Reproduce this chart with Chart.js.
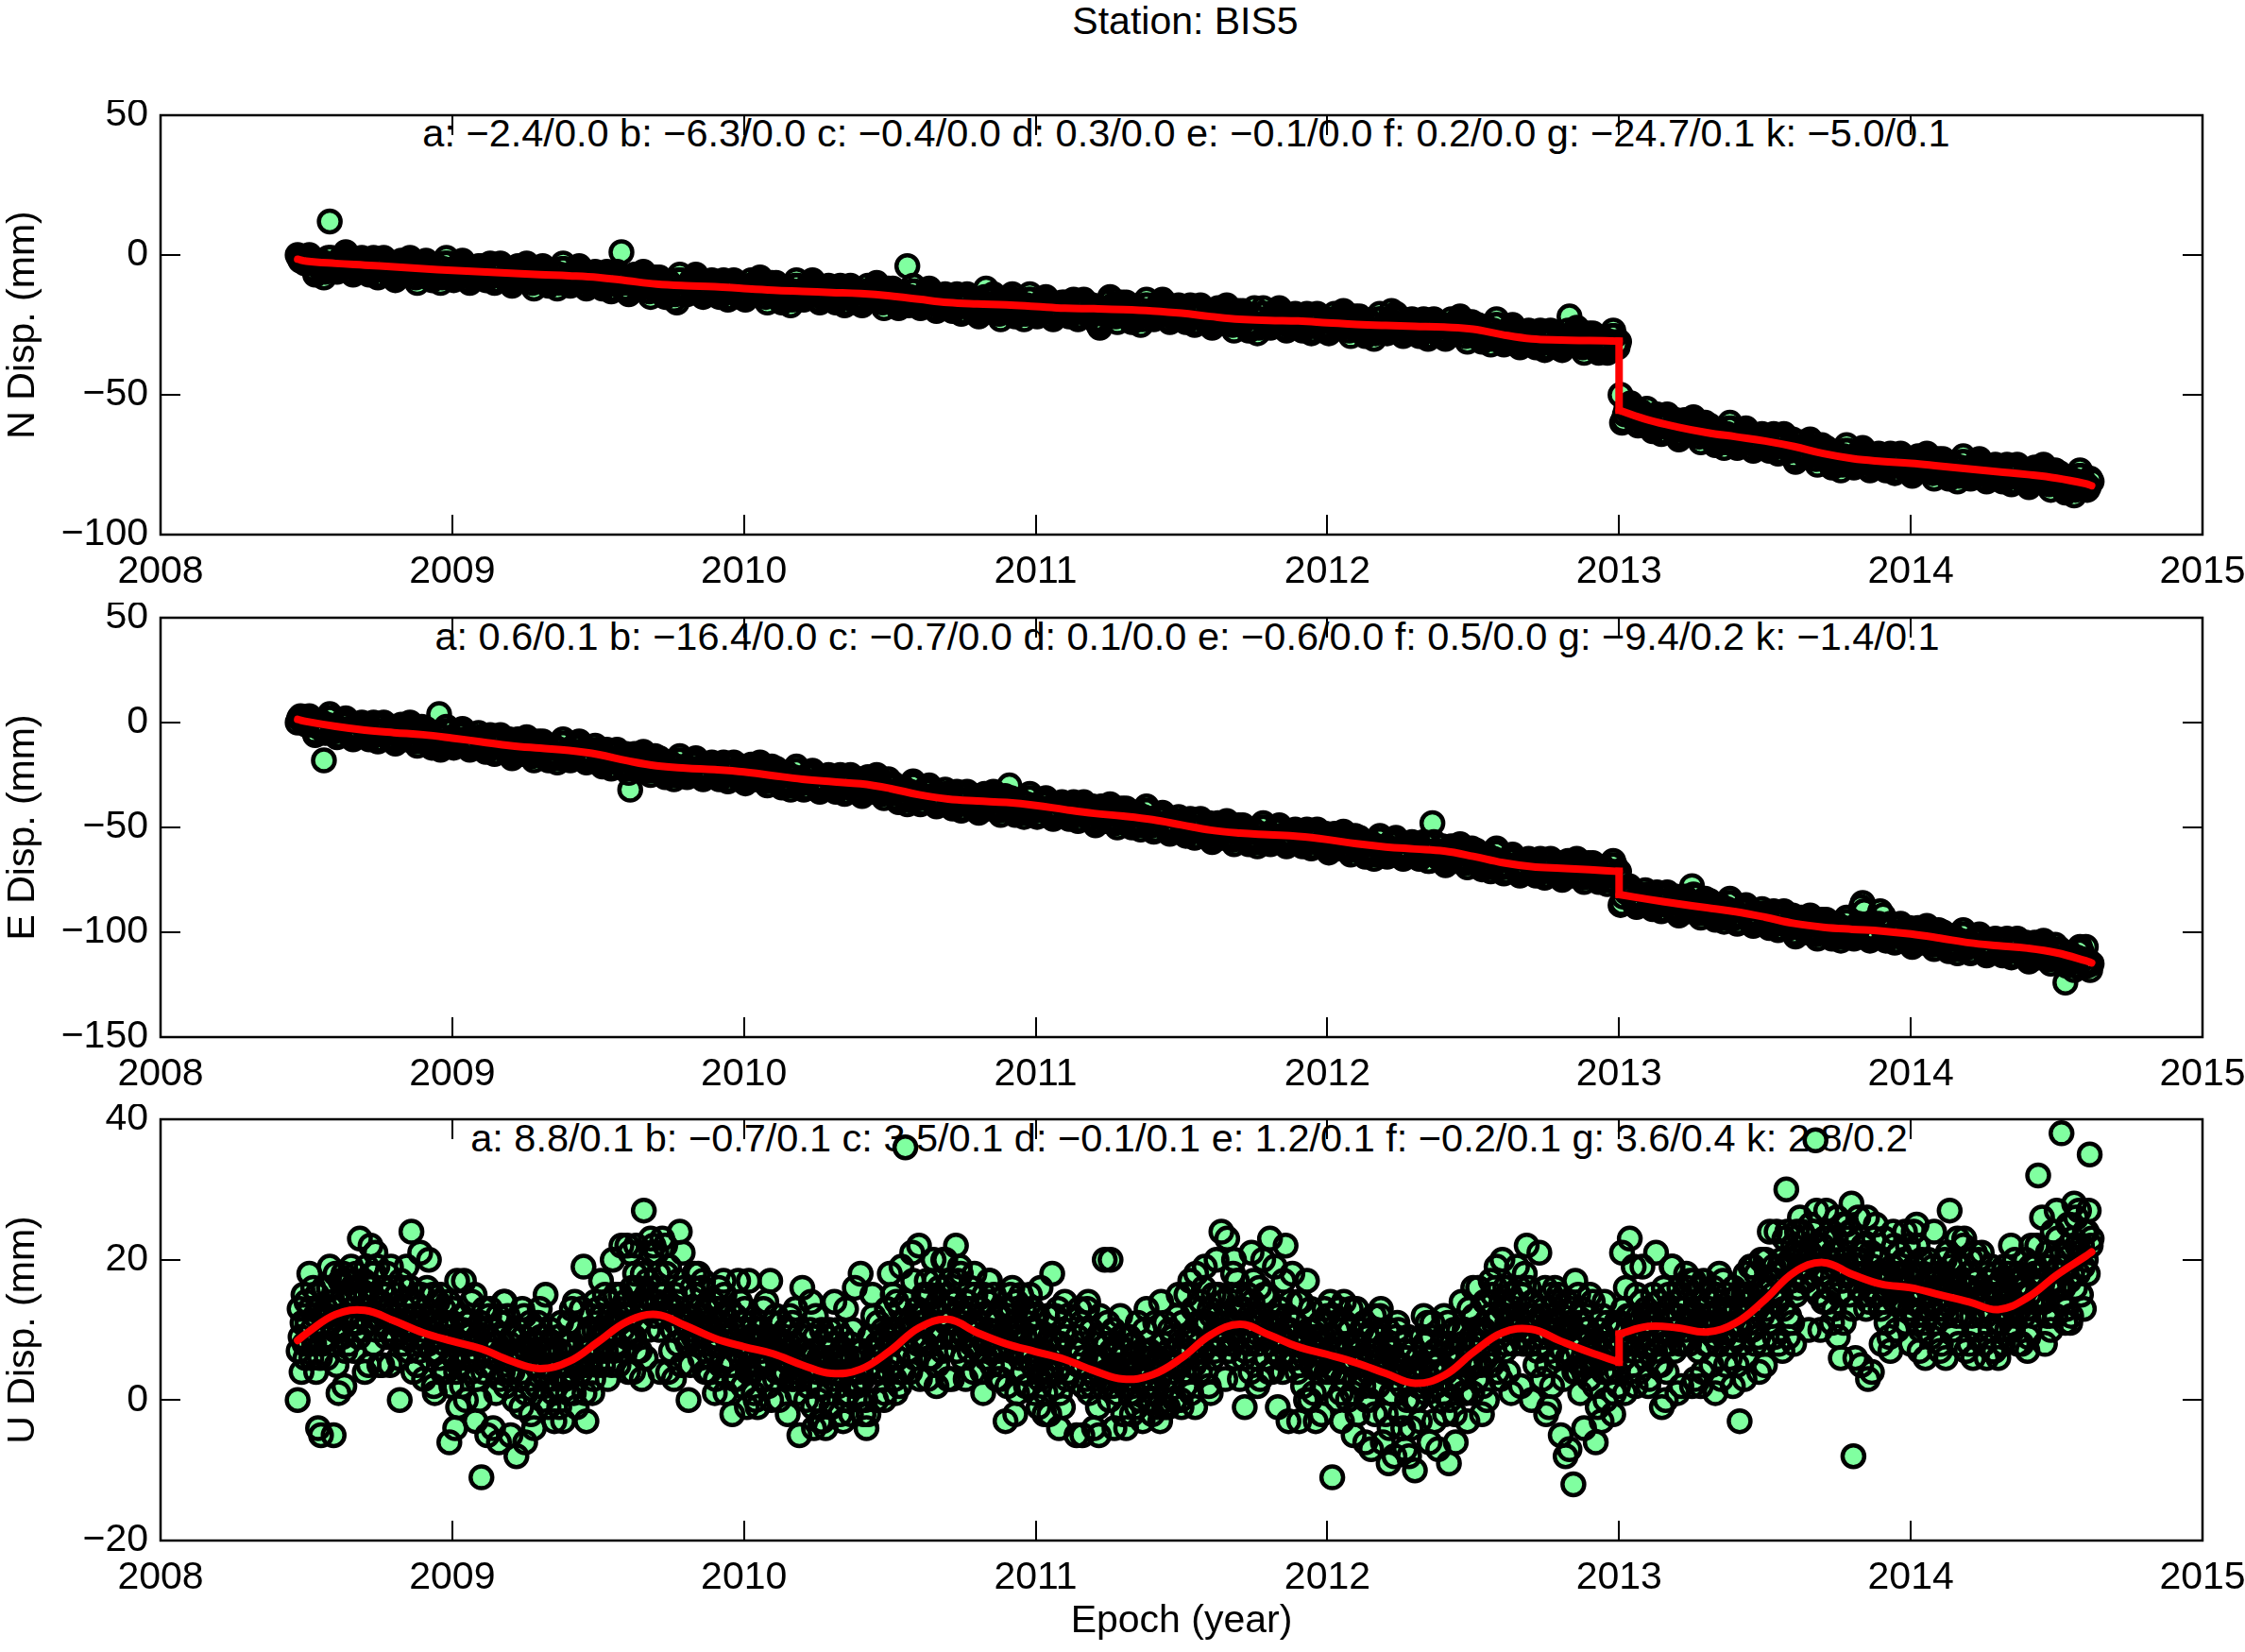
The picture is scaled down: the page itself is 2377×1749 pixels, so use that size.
<!DOCTYPE html>
<html>
<head>
<meta charset="utf-8">
<script src="https://cdn.jsdelivr.net/npm/chart.js@4.4.1/dist/chart.umd.min.js"></script>
<style>
  html, body { margin: 0; padding: 0; background: #fff; }
  body { width: 2377px; height: 1749px; position: relative; overflow: hidden;
         font-family: "Liberation Sans", Arial, Helvetica, sans-serif; }
  .txt { position: absolute; white-space: nowrap; color: #000; font-size: 41px; line-height: 41px;
         transform: translateX(-50%); z-index: 0; }
  .par { font-size: 41.5px; }
  canvas { position: absolute; left: 0; z-index: 1; }
</style>
</head>
<body>
<div id="title" class="txt" style="left:1255px; top:2px;"></div>
<div id="parN" class="txt par" style="left:1256px; top:120px;"></div>
<div id="parE" class="txt par" style="left:1257px; top:653px;"></div>
<div id="parU" class="txt par" style="left:1259px; top:1184px;"></div>
<canvas id="cN" width="2377" height="530" style="top:106px;"></canvas>
<canvas id="cE" width="2377" height="530" style="top:638px;"></canvas>
<canvas id="cU" width="2377" height="580" style="top:1169px;"></canvas>
<script>
// ---------------- texts ----------------
const stationName = 'BIS5';
const titleText = 'Station: ' + stationName;
const xAxisTitle = 'Epoch (year)';
const yTitles = ['N Disp. (mm)', 'E Disp. (mm)', 'U Disp. (mm)'];
const paramN = 'a: \u22122.4/0.0 b: \u22126.3/0.0 c: \u22120.4/0.0 d: 0.3/0.0 e: \u22120.1/0.0 f: 0.2/0.0 g: \u221224.7/0.1 k: \u22125.0/0.1';
const paramE = 'a: 0.6/0.1 b: \u221216.4/0.0 c: \u22120.7/0.0 d: 0.1/0.0 e: \u22120.6/0.0 f: 0.5/0.0 g: \u22129.4/0.2 k: \u22121.4/0.1';
const paramU = 'a: 8.8/0.1 b: \u22120.7/0.1 c: 3.5/0.1 d: \u22120.1/0.1 e: 1.2/0.1 f: \u22120.2/0.1 g: 3.6/0.4 k: 2.8/0.2';

// ---------------- tick labels ----------------
const xTickLabels = ['2008', '2009', '2010', '2011', '2012', '2013', '2014', '2015'];
const nTickLabels = ['\u2212100', '\u221250', '0', '50'];
const eTickLabels = ['\u2212150', '\u2212100', '\u221250', '0', '50'];
const uTickLabels = ['\u221220', '0', '20', '40'];

// ---------------- sampling of the observations ----------------
const sampleStart = 2008.47;   // first epoch (year)
const stepNE = 0.005;          // epoch spacing of the N and E values (20 per 0.1 yr row)
const stepU = 1 / 300;         // epoch spacing of the U values (30 per 0.1 yr row)

// ---------------- N displacement (mm) ----------------
const nDisp = [
 0, -1, -2, -1, -2, -3,
 -3, -2, 0, -1, -3, -5, -7, -6, -4, -2, -3, -5, -8, -6, -3, -1, 12, -1, -4, -5,
 -4, -6, -5, -3, -1, -2, 0, 1, -1, -3, -4, -6, -7, -5, -2, -3, -5, -4, -1, -2,
 -2, -4, -5, -7, -6, -3, -1, -2, -5, -8, -7, -4, -3, -1, -2, -4, -6, -7, -5, -3,
 -7, -9, -8, -5, -4, -2, -4, -6, -7, -5, -3, -1, -2, -4, -6, -8, -10, -7, -5, -3,
 -5, -4, -2, -3, -5, -7, -9, -8, -6, -4, -5, -7, -10, -8, -5, -3, -1, -3, -6, -7,
 -7, -9, -8, -6, -4, -5, -3, -2, -4, -6, -7, -9, -10, -8, -5, -6, -8, -7, -4, -5,
 -4, -6, -7, -9, -8, -5, -3, -4, -7, -10, -9, -6, -5, -3, -4, -6, -8, -9, -7, -5,
 -9, -11, -10, -7, -6, -4, -6, -8, -9, -7, -5, -3, -4, -6, -8, -10, -12, -9, -7, -5,
 -7, -6, -4, -5, -7, -9, -11, -10, -8, -6, -7, -9, -12, -10, -7, -5, -3, -5, -8, -9,
 -9, -11, -10, -8, -6, -7, -5, -4, -6, -8, -9, -11, -12, -10, -7, -8, -10, -9, -6, -7,
 -7, -9, -10, -12, -11, -8, -6, -7, -10, -13, -12, -9, -8, -6, -7, -9, 1, -12, -10, -8,
 -12, -14, -13, -10, -9, -7, -9, -11, -12, -10, -8, -6, -7, -9, -11, -13, -15, -12, -10, -8,
 -11, -10, -8, -9, -11, -13, -15, -14, -12, -10, -11, -13, -16, -14, -17, -9, -7, -9, -12, -13,
 -12, -14, -13, -11, -9, -10, -8, -7, -9, -11, -12, -14, -15, -13, -10, -11, -13, -12, -9, -10,
 -10, -12, -13, -15, -14, -11, -9, -10, -13, -16, -15, -12, -11, -9, -10, -12, -14, -15, -13, -11,
 -14, -16, -15, -12, -11, -9, -11, -13, -14, -12, -10, -8, -9, -11, -13, -15, -17, -14, -12, -10,
 -13, -12, -10, -11, -13, -15, -17, -16, -14, -12, -13, -15, -18, -16, -13, -11, -9, -11, -14, -15,
 -14, -16, -15, -13, -11, -12, -10, -9, -11, -13, -14, -16, -17, -15, -12, -13, -15, -14, -11, -12,
 -12, -14, -15, -17, -16, -13, -11, -12, -15, -18, -17, -14, -13, -11, -12, -14, -16, -17, -15, -13,
 -16, -18, -17, -14, -13, -11, -13, -15, -16, -14, -12, -10, -11, -13, -15, -17, -19, -16, -14, -12,
 -15, -14, -12, -13, -15, -17, -19, -18, -16, -14, -15, -17, -4, -18, -15, -13, -11, -13, -16, -17,
 -17, -19, -18, -16, -14, -15, -13, -12, -14, -16, -17, -19, -20, -18, -15, -16, -18, -17, -14, -15,
 -15, -17, -18, -20, -19, -16, -14, -15, -18, -21, -20, -17, -16, -14, -15, -17, -19, -20, -18, -16,
 -20, -22, -21, -18, -17, -15, -12, -19, -20, -18, -16, -14, -15, -17, -19, -21, -23, -20, -18, -16,
 -18, -17, -15, -16, -14, -20, -22, -21, -19, -17, -18, -20, -23, -21, -18, -16, -14, -16, -19, -20,
 -20, -22, -21, -19, -17, -18, -16, -15, -17, -19, -20, -22, -23, -21, -18, -19, -21, -20, -17, -18,
 -17, -19, -20, -22, -21, -18, -16, -17, -20, -23, -22, -19, -18, -16, -17, -19, -21, -22, -20, -18,
 -21, -23, -24, -25, -26, -23, -21, -20, -21, -19, -17, -15, -16, -18, -20, -22, -24, -21, -19, -17,
 -20, -19, -17, -18, -20, -22, -24, -23, -21, -19, -20, -22, -25, -23, -20, -18, -16, -18, -21, -22,
 -21, -23, -22, -20, -18, -19, -17, -16, -18, -20, -21, -23, -24, -22, -19, -20, -22, -21, -18, -19,
 -19, -21, -22, -24, -23, -20, -18, -19, -22, -25, -24, -21, -20, -18, -19, -21, -23, -24, -22, -20,
 -24, -26, -25, -22, -21, -19, -21, -23, -24, -22, -20, -18, -19, -21, -23, -25, -27, -24, -22, -20,
 -23, -22, -20, -21, -23, -25, -27, -26, -24, -22, -19, -25, -28, -26, -23, -21, -19, -21, -24, -25,
 -24, -26, -25, -23, -21, -22, -20, -19, -21, -23, -24, -26, -27, -25, -22, -23, -25, -24, -21, -22,
 -22, -24, -25, -27, -26, -23, -21, -22, -25, -28, -27, -24, -23, -21, -22, -24, -26, -27, -25, -23,
 -26, -28, -27, -24, -23, -21, -23, -25, -26, -24, -22, -20, -21, -23, -25, -27, -29, -26, -24, -22,
 -25, -24, -22, -23, -25, -27, -29, -28, -26, -24, -25, -27, -30, -28, -25, -23, -21, -23, -26, -27,
 -26, -28, -27, -25, -20, -24, -22, -21, -23, -25, -26, -28, -29, -27, -24, -25, -27, -26, -23, -24,
 -24, -26, -27, -29, -28, -25, -23, -24, -27, -30, -29, -26, -25, -23, -24, -26, -28, -29, -27, -25,
 -28, -30, -29, -26, -25, -23, -25, -27, -28, -26, -24, -22, -23, -25, -27, -29, -31, -28, -26, -24,
 -27, -26, -25, -25, -27, -29, -31, -30, -28, -26, -27, -29, -32, -30, -27, -25, -23, -25, -28, -29,
 -30, -32, -31, -29, -27, -28, -26, -25, -27, -29, -30, -32, -33, -31, -28, -29, -31, -30, -27, -28,
 -28, -30, -31, -33, -32, -29, -27, -28, -31, -34, -33, -30, -29, -27, -28, -30, -32, -33, -31, -29,
 -32, -34, -33, -30, -29, -27, -22, -31, -32, -30, -28, -26, -27, -29, -31, -33, -35, -32, -30, -28,
 -31, -30, -28, -29, -31, -33, -35, -34, -32, -30, -31, -33, -35, -34, -31, -29, -27, -29, -32, -33,
 -31, -50, -60, -59, -57, -55, -56, -54, -53, -55, -57, -58, -60, -61, -59, -56, -57, -59, -58, -55,
 -58, -60, -61, -63, -62, -59, -57, -58, -61, -64, -63, -60, -59, -57, -58, -60, -62, -63, -61, -59,
 -64, -66, -65, -62, -61, -59, -61, -63, -64, -62, -60, -58, -59, -61, -63, -65, -67, -64, -62, -60,
 -64, -63, -61, -62, -64, -66, -68, -67, -65, -63, -64, -66, -69, -67, -64, -62, -60, -62, -65, -66,
 -67, -69, -68, -66, -64, -65, -63, -62, -64, -66, -67, -69, -70, -68, -65, -66, -68, -67, -64, -65,
 -65, -67, -68, -70, -69, -66, -64, -65, -68, -71, -70, -67, -66, -64, -65, -67, -69, -70, -68, -66,
 -72, -74, -73, -70, -69, -67, -69, -71, -72, -70, -68, -66, -67, -69, -71, -73, -75, -72, -70, -68,
 -72, -71, -69, -70, -72, -74, -76, -75, -73, -71, -72, -74, -77, -75, -72, -70, -68, -70, -73, -74,
 -74, -76, -75, -73, -71, -72, -70, -69, -71, -73, -74, -76, -77, -75, -72, -73, -75, -74, -71, -72,
 -72, -74, -75, -77, -76, -73, -71, -72, -75, -78, -77, -74, -73, -71, -72, -74, -76, -77, -75, -73,
 -77, -79, -78, -75, -74, -72, -74, -76, -77, -75, -73, -71, -72, -74, -76, -78, -80, -77, -75, -73,
 -76, -75, -73, -74, -76, -78, -80, -79, -77, -75, -76, -78, -81, -79, -76, -74, -72, -74, -77, -78,
 -78, -80, -79, -77, -75, -76, -74, -73, -75, -77, -78, -80, -81, -79, -76, -77, -79, -78, -75, -76,
 -76, -78, -79, -81, -80, -77, -75, -76, -79, -82, -81, -78, -77, -75, -76, -78, -80, -81, -79, -77,
 -81, -83, -82, -79, -78, -76, -78, -80, -81, -79, -77, -75, -76, -78, -80, -82, -84, -81, -79, -77,
 -81, -80, -78, -79, -81, -83, -85, -84, -82, -80, -81, -83, -86, -84, -81, -79, -77, -79, -82, -83,
 -82, -84, -83, -80, -81
];

// ---------------- E displacement (mm) ----------------
const eDisp = [
 0, 2, 3, 1, 0, 2,
 -1, 1, 3, 2, -1, -4, -6, -5, -2, 1, 0, -3, -18, -5, -1, 2, 4, 2, -2, -4,
 -4, -7, -6, -3, 0, -1, 1, 2, 0, -3, -5, -7, -8, -6, -2, -3, -6, -5, 0, -2,
 -1, -4, -6, -8, -7, -3, 0, -1, -5, -9, -8, -4, -2, 0, -1, -4, -7, -8, -5, -2,
 -8, -10, -9, -5, -3, -1, -3, -6, -8, -5, -2, 0, -1, -4, -7, -9, -11, -8, -5, -2,
 -7, -5, -3, -4, -7, -10, -12, -11, -8, -5, -6, 4, -13, -11, -7, -4, -2, -4, -8, -10,
 -9, -12, -11, -8, -5, -6, -4, -3, -5, -8, -10, -12, -13, -11, -7, -8, -11, -10, -5, -7,
 -7, -10, -12, -14, -13, -9, -6, -7, -11, -15, -14, -10, -8, -6, -7, -10, -13, -14, -11, -8,
 -15, -17, -16, -12, -10, -8, -10, -13, -15, -12, -9, -7, -8, -11, -14, -16, -18, -15, -12, -9,
 -13, -11, -9, -10, -13, -16, -18, -17, -14, -11, -12, -15, -19, -17, -13, -10, -8, -10, -14, -16,
 -15, -18, -17, -14, -11, -12, -10, -9, -11, -14, -16, -18, -19, -17, -13, -14, -17, -16, -11, -13,
 -14, -17, -19, -21, -20, -16, -13, -14, -18, -22, -21, -17, -15, -13, -14, -17, -20, -21, -18, -15,
 -22, -24, -32, -19, -17, -15, -17, -20, -22, -19, -16, -14, -15, -18, -21, -23, -25, -22, -19, -16,
 -21, -19, -17, -18, -21, -24, -26, -25, -22, -19, -20, -23, -27, -25, -21, -18, -16, -18, -22, -24,
 -23, -26, -25, -22, -19, -20, -18, -17, -19, -22, -24, -26, -27, -25, -21, -22, -25, -24, -19, -21,
 -20, -23, -25, -27, -26, -22, -19, -20, -24, -28, -27, -23, -21, -19, -20, -23, -26, -27, -24, -21,
 -27, -29, -28, -24, -22, -20, -22, -25, -27, -24, -21, -19, -20, -23, -26, -28, -30, -27, -24, -21,
 -26, -24, -22, -23, -26, -29, -31, -30, -27, -24, -25, -28, -32, -30, -26, -23, -21, -23, -27, -29,
 -29, -32, -31, -28, -25, -26, -24, -23, -25, -28, -30, -32, -33, -31, -27, -28, -31, -30, -25, -27,
 -26, -29, -31, -33, -32, -28, -25, -26, -30, -34, -33, -29, -27, -25, -26, -29, -32, -33, -30, -27,
 -33, -35, -34, -30, -28, -26, -28, -31, -33, -30, -27, -25, -26, -29, -32, -34, -36, -33, -30, -27,
 -33, -31, -29, -30, -33, -36, -38, -37, -34, -31, -32, -35, -39, -37, -33, -30, -28, -30, -34, -36,
 -36, -39, -38, -35, -32, -33, -31, -30, -32, -35, -37, -39, -40, -38, -34, -35, -38, -37, -32, -34,
 -34, -37, -39, -41, -40, -36, -33, -34, -38, -42, -41, -37, -35, -33, -34, -37, -40, -41, -38, -35,
 -41, -43, -42, -38, -36, -34, -36, -39, -41, -38, -35, -33, -34, -37, -40, -42, -44, -41, -38, -35,
 -39, -37, -30, -36, -39, -42, -44, -43, -40, -37, -38, -41, -45, -43, -39, -36, -34, -36, -40, -42,
 -42, -45, -44, -41, -38, -39, -37, -36, -38, -41, -43, -45, -46, -44, -40, -41, -44, -43, -38, -40,
 -39, -42, -44, -46, -45, -41, -38, -39, -43, -47, -46, -42, -40, -38, -39, -42, -45, -46, -43, -40,
 -47, -49, -48, -44, -42, -40, -42, -45, -47, -44, -41, -39, -40, -43, -46, -48, -50, -47, -44, -41,
 -45, -43, -41, -42, -45, -48, -50, -49, -46, -43, -44, -47, -51, -49, -45, -42, -40, -42, -46, -48,
 -49, -52, -51, -48, -45, -46, -44, -43, -45, -48, -50, -52, -53, -51, -47, -48, -51, -50, -45, -47,
 -47, -50, -52, -54, -53, -49, -46, -47, -51, -55, -54, -50, -48, -46, -47, -50, -53, -54, -51, -48,
 -55, -57, -56, -52, -50, -48, -50, -53, -55, -52, -49, -47, -48, -51, -54, -56, -58, -55, -52, -49,
 -53, -51, -49, -50, -53, -56, -58, -57, -54, -51, -52, -55, -59, -57, -53, -50, -48, -50, -54, -56,
 -55, -58, -57, -54, -51, -52, -50, -49, -51, -54, -56, -58, -59, -57, -53, -54, -57, -56, -51, -53,
 -52, -55, -57, -59, -58, -54, -51, -52, -56, -60, -59, -55, -53, -51, -52, -55, -58, -59, -56, -53,
 -60, -62, -61, -57, -55, -53, -55, -58, -60, -57, -54, -52, -53, -56, -59, -61, -63, -60, -57, -54,
 -59, -57, -55, -56, -59, -62, -64, -63, -60, -57, -58, -61, -65, -63, -59, -56, -54, -56, -60, -62,
 -61, -64, -63, -60, -57, -58, -56, -55, -57, -60, -62, -64, -65, -63, -59, -60, -63, -62, -57, -59,
 -58, -61, -63, -65, -64, -60, -57, -58, -62, -66, -66, -62, -48, -57, -58, -61, -64, -65, -62, -59,
 -66, -68, -67, -63, -61, -59, -61, -64, -66, -63, -60, -58, -59, -62, -65, -67, -69, -66, -63, -60,
 -65, -63, -61, -62, -65, -68, -70, -69, -66, -63, -64, -67, -71, -69, -65, -62, -60, -62, -66, -68,
 -69, -72, -71, -68, -65, -66, -64, -63, -65, -68, -70, -72, -73, -71, -67, -68, -71, -70, -65, -67,
 -66, -69, -71, -73, -72, -68, -65, -66, -70, -74, -73, -69, -67, -65, -66, -69, -72, -73, -70, -67,
 -73, -75, -74, -70, -68, -66, -68, -71, -73, -70, -67, -65, -66, -69, -72, -74, -76, -73, -70, -67,
 -71, -69, -67, -68, -71, -74, -76, -75, -72, -69, -70, -73, -77, -75, -71, -68, -66, -68, -72, -74,
 -71, -87, -86, -83, -80, -81, -79, -78, -80, -83, -85, -87, -88, -86, -82, -83, -86, -85, -80, -82,
 -82, -85, -87, -89, -88, -84, -81, -82, -86, -90, -89, -85, -83, -81, -82, -85, -88, -89, -86, -83,
 -90, -92, -91, -87, -85, -83, -85, -88, -90, -87, -78, -82, -83, -86, -89, -91, -93, -90, -87, -84,
 -89, -87, -85, -86, -89, -92, -94, -93, -90, -87, -88, -91, -95, -93, -89, -86, -84, -86, -90, -92,
 -93, -96, -95, -92, -89, -90, -88, -87, -89, -92, -94, -96, -97, -95, -91, -92, -95, -94, -89, -91,
 -91, -94, -96, -98, -97, -93, -90, -91, -95, -99, -98, -94, -92, -90, -91, -94, -97, -98, -95, -92,
 -100, -102, -101, -97, -95, -93, -95, -98, -100, -97, -94, -92, -93, -96, -99, -101, -103, -100, -97, -94,
 -98, -96, -94, -95, -98, -101, -103, -102, -99, -96, -97, -100, -104, -102, -98, -95, -93, -95, -99, -101,
 -100, -103, -102, -99, -96, -97, -88, -86, -90, -99, -101, -103, -104, -102, -98, -99, -102, -101, -96, -90,
 -97, -92, -102, -104, -103, -99, -96, -97, -101, -105, -104, -100, -98, -96, -97, -100, -103, -104, -101, -98,
 -105, -107, -106, -102, -100, -98, -100, -103, -105, -102, -99, -97, -98, -101, -104, -106, -108, -105, -102, -99,
 -104, -102, -100, -101, -104, -107, -109, -108, -105, -102, -103, -106, -110, -108, -104, -101, -99, -101, -105, -107,
 -107, -110, -109, -106, -103, -104, -102, -101, -103, -106, -108, -110, -111, -109, -105, -106, -109, -108, -103, -105,
 -104, -107, -109, -111, -110, -106, -103, -104, -108, -112, -111, -107, -105, -103, -104, -107, -110, -111, -108, -105,
 -112, -114, -113, -109, -107, -105, -107, -110, -112, -109, -106, -104, -105, -108, -111, -113, -115, -112, -109, -106,
 -112, -110, -108, -109, -112, -115, -124, -116, -113, -110, -111, -114, -118, -116, -112, -109, -107, -109, -113, -115,
 -107, -116, -114, -118, -115
];

// ---------------- U displacement (mm) ----------------
const uDisp = [
 0, 7, 13, 9, 4, 11, 15, 8, 6, 14, 11, 8, 18, 13, 6, 10, 16, 8, 12, 4, 15, -4, 13, 6, -5, 8, 12, 16, 9, 13,
 6, 12, 16, 19, 11, 8, 14, -5, 10, 18, 5, 13, 1, 10, 17, 12, 9, 18, 2, 7, 17, 12, 8, 15, 17, 19, 11, 15, 7, 16,
 18, 11, 14, 9, 23, 15, 10, 13, 17, 4, 15, 19, 11, 5, 16, 22, 15, 12, 8, 18, 21, 10, 19, 13, 5, 14, 11, 5, 16, 12,
 15, 9, 18, 10, 13, 5, 19, 16, 9, 11, 13, 9, 15, 11, 6, 0, 17, 10, 8, 16, 12, 9, 19, 14, 7, 10, 16, 24, 12, 4,
 14, 9, 12, 5, 11, 7, 21, 15, 8, 12, 3, 9, 13, 16, 8, 20, 11, 12, 7, 15, 2, 1, 11, 7, 14, 9, 6, 15, 11, 4,
 13, 8, 4, 11, 9, 14, -6, 10, 2, 11, 13, 6, -4, 4, 17, -1, 5, 8, 12, 2, 10, 17, 6, 0, 11, 6, 11, 8, 4, 14,
 10, 6, 15, -3, 3, 9, 6, 0, 11, -11, 10, 4, 13, 5, 8, -5, 9, 12, 13, 7, 8, -4, 10, 6, 1, 8, 12, -6, 3, 11,
 7, 4, 14, 14, 2, 6, 12, 4, 8, -5, 9, 4, 7, 0, 6, -8, 6, 10, 3, 7, -1, 13, 9, 12, -6, 1, 7, 8, 3, 11,
 -2, 6, 7, -4, 10, 5, 2, 11, 7, 13, 9, 4, 0, 7, 5, 15, 3, 7, -1, 8, 10, 3, 6, 1, -3, 7, 2, 5, 9, -1,
 7, 11, 3, -3, 8, 3, 8, 5, 1, 11, 8, 4, 13, 7, 1, 14, 5, -1, 10, 6, 10, 4, 13, 5, 19, 1, 9, -3, 5, 7,
 10, 6, 12, 1, 3, 10, 14, 7, 5, 13, 10, 7, 17, 12, 5, 9, 15, 7, 11, 3, 14, 9, 12, 5, 20, 7, 11, 15, 8, 12,
 5, 11, 15, 22, 10, 7, 13, 14, 9, 22, 4, 12, 21, 9, 16, 4, 9, 18, 22, 7, 16, 11, 7, 14, 3, 18, 27, 14, 6, 15,
 17, 10, 13, 23, 21, 14, 22, 12, 16, 21, 14, 18, 10, 4, 15, 23, 15, 12, 22, 18, 14, 4, 19, 13, 7, 13, 10, 3, 15, 11,
 14, 8, 17, 24, 12, 5, 21, 16, 9, 11, 12, 8, 0, 10, 5, 12, 16, 9, 18, 15, 11, 8, 18, 13, 6, 10, 16, 17, 12, 4,
 13, 8, 11, 4, 10, 6, 10, 14, 7, 1, 3, 9, 13, 16, 8, 5, 11, 12, 17, 15, 1, 9, 10, 6, 13, 8, 5, -2, 10, 3,
 12, 7, 3, 17, 8, 14, 6, 10, 2, 11, 13, 6, -1, 4, 17, 9, 4, 7, 11, 1, 9, 0, 5, -1, 10, 5, 10, 7, 3, 13,
 9, 5, 14, 8, 2, 9, 17, 0, 11, 7, 9, 3, 12, 4, 7, 0, 8, 11, 4, 6, 8, 4, 10, 6, -2, 8, 12, 5, 3, 11,
 6, 3, 13, 8, 1, 5, -5, 3, 7, 16, 9, 4, 7, 0, 6, 2, 6, 10, 14, 7, -1, -4, 9, 12, 4, 0, 6, -3, 2, 10,
 -3, 5, 6, -4, 9, 4, 1, 10, 6, -1, 8, 3, 14, 6, 4, 10, 2, 6, -2, 7, 9, -3, 5, 0, 13, 6, 1, 4, 8, -2,
 6, 10, 2, 16, 7, 2, 7, 4, 0, 18, 7, 3, -2, 6, 0, -4, 4, -2, 9, 5, 9, 15, 12, 4, 7, 0, 8, 11, 4, 6,
 8, 4, 10, 0, 1, 9, 13, 6, 4, 18, 8, 5, 15, 10, 3, 1, 14, 6, 10, 2, 13, 19, 11, 4, 10, 36, 10, 14, 7, 11,
 4, 10, 21, 17, 9, 6, 12, 13, 8, 22, 3, 11, 12, 8, 15, 11, 8, 17, 3, 6, 15, 10, 6, 13, 20, 17, 9, 2, 5, 14,
 16, 9, 12, 7, 20, 13, 20, 11, 15, 3, 13, 17, 9, 3, 14, 9, 14, 22, 7, 17, 13, 19, 18, 12, 6, 12, 9, 3, 14, 10,
 13, 7, 16, 8, 11, 4, 18, 15, 8, 10, 11, 7, 13, 9, 4, 1, 15, 8, 6, 14, 10, 17, 17, 12, 5, 9, 15, 7, 11, 3,
 12, 7, 10, 3, 9, 5, 9, 13, -3, 10, 2, 8, 12, 15, 7, 16, 10, 11, -2, 14, 1, 9, 10, 6, 15, 7, 4, 13, 9, 2,
 11, 6, 2, 15, 7, 13, 5, 9, 1, 10, 12, 5, -1, 3, 16, 9, 4, 7, -2, 1, 8, 12, 4, -2, 9, 4, 18, 6, 2, 12,
 8, 4, 13, -4, 1, 8, 5, -1, 10, 14, 9, 3, 12, 4, null, null, null, null, null, null, 7, -5, 9, 5, 13, 7, 11, -5, 2, 10,
 6, 3, 13, 14, 1, 4, 10, 2, 6, -4, 8, 3, 6, -1, -5, 12, 5, 9, 2, 6, 20, 4, 8, 11, 3, 0, 20, 7, 2, 10,
 -4, 4, 5, 1, 8, 3, 12, 9, 5, -2, 7, 2, -4, 5, 3, 9, 1, 5, -2, 6, 8, 1, 4, -1, 11, 5, 0, 3, 7, -3,
 6, 10, 2, 13, 7, 2, 7, 4, 0, -2, 6, 2, 11, 5, -1, 6, 3, -3, 14, 4, 8, -1, 11, 3, 6, -1, 7, 10, 3, 5,
 9, 4, 0, 7, 5, 12, 15, 8, 0, -1, 11, 4, 7, 2, 15, 9, 4, 7, 17, 1, 9, 13, 5, -1, 18, 6, 11, 8, 4, 14,
 11, 7, 16, 19, 4, 11, 8, 2, 13, 1, 12, 6, 15, 7, 10, 20, 12, 15, 8, 10, 24, 8, 14, 10, 3, 12, 23, 9, 7, 15,
 11, 8, 18, 20, 6, 11, 17, 9, 13, 3, 15, 10, 13, 6, -1, 7, 11, 15, 8, 12, 4, 21, 14, 17, 9, 6, 12, 2, 8, 16,
 3, 11, 12, 20, 15, 9, 6, 15, 11, 4, 23, 8, 4, 11, 9, 19, 7, 11, -1, 12, 13, 6, 9, 4, 17, 10, 22, 8, 12, -3,
 10, 14, 6, 18, 11, 6, 11, 8, 4, 14, -3, 5, 14, 8, 2, 9, 6, 0, 17, 7, 10, 0, 13, 5, 8, 1, 9, -3, 5, 7,
 9, 5, 11, -2, 2, 9, 13, 6, 4, 12, 7, 4, 14, 9, -11, 6, 12, 4, 8, 0, 10, 13, 8, 1, -3, 3, 14, 11, 4, 8,
 0, 6, 10, 13, 5, 1, -5, 8, 3, 13, -2, 6, 7, 3, 10, 5, 2, 11, -6, 0, 9, 4, 0, 7, -7, 10, 2, 12, -2, 7,
 9, 2, 5, 12, 13, 6, -6, 4, 8, -2, 6, 10, -9, -4, 7, 1, 6, 3, -8, 9, 5, 11, 10, 4, -2, 5, 2, -4, 7, -7,
 6, 0, 9, -8, 4, -4, 4, 7, 0, -10, 4, 0, 6, 2, -3, 5, 9, 2, 12, 8, 4, 1, 11, 6, -6, 3, 9, 11, 5, -3,
 7, 2, 5, -7, 4, 0, 4, 8, 1, 12, -2, 4, 8, 11, -9, 0, 6, 7, 2, 10, -2, -6, 7, 3, 10, 6, 3, 14, 8, 1,
 10, 5, 1, -3, 6, 13, 5, 9, 1, 16, 12, 5, 8, 3, 16, 10, 5, 8, -2, 2, 10, 14, 6, 0, 11, 7, 12, 17, 5, 15,
 11, 7, 16, 19, 4, 12, 9, 3, 14, 20, 13, 7, 16, 8, 11, 4, 12, 15, 1, 10, 12, 8, 14, 10, 19, 12, 16, 9, 2, 15,
 11, 8, 18, 13, 22, 10, 16, 8, 12, 0, 14, 9, 12, 5, 11, 7, 11, 21, 8, 12, 3, 9, 13, 16, -2, 5, 11, -1, 7, 15,
 2, 10, 11, 16, 14, 9, 6, 15, 11, -5, 12, 7, 3, 10, -8, 14, 6, 10, -7, 11, 13, 6, -12, 4, 17, 9, 4, 15, 11, 1,
 9, 13, 5, -4, 10, 5, 10, 7, 3, 15, 9, 5, 14, 8, 2, -6, 5, -1, 10, 6, 9, -3, 12, 4, 14, 0, 8, 11, 4, 6,
 8, 4, 10, -2, 1, 7, 11, 4, 2, 10, 11, 8, 21, 13, 6, 1, 16, 8, 12, 4, 23, 9, 12, 5, 19, 7, 2, 15, 8, 12,
 4, 10, 14, 19, 9, 6, 12, 13, 8, 2, 3, 11, 12, 8, 15, 10, 7, 21, 12, 5, 14, 9, 5, -1, 10, 16, 8, 0, 4, 13,
 15, 8, 11, 19, 19, 12, 7, 10, 14, 1, 12, 16, 8, 2, 13, 8, 13, 10, 18, 16, 12, 8, 17, 11, 2, 12, 17, 3, 14, 10,
 13, 7, 16, 2, 11, 4, 17, 15, 8, 10, 12, 8, 14, 10, 5, 12, 16, 9, 1, 15, 11, 8, 18, 13, 3, 11, 17, 9, 13, 5,
 15, 10, 13, 6, 12, 8, 2, 16, 9, 13, 5, 11, 15, -3, 10, 8, 14, 15, 3, 18, 6, 14, 15, 11, 19, 13, 10, 19, 15, 8,
 18, 13, 9, 4, 14, 20, 12, 16, 8, 5, 20, 13, 16, 11, 24, 17, 12, 15, 19, 9, 18, 24, 14, 8, 19, 15, 20, 7, 13, 23,
 19, 30, 24, 9, 12, 20, 17, 11, 22, 8, 21, 15, 24, 16, 19, 26, 21, 24, 17, 19, 21, 17, 23, 19, 10, 21, 25, 18, 16, 24,
 20, 37, 27, 22, 15, 20, 10, 18, 22, 14, 23, 18, 27, 14, 20, 16, 20, 24, 11, 21, 13, 19, 23, 26, 9, 15, 21, 6, 17, 25,
 11, 19, 20, 25, 23, 18, 15, 24, 28, 13, -8, 17, 6, 20, 18, 26, 16, 20, 5, 21, 22, 15, 18, 13, 26, 3, 14, 17, 21, 4,
 19, 23, 15, 25, 20, 15, 20, 17, 13, 8, 18, 14, 23, 17, 11, 18, 15, 9, 7, 16, 19, 24, 22, 14, 17, 10, 18, 21, 14, 16,
 18, 14, 20, 24, 11, 18, 22, 15, 13, 8, 17, 14, 24, 19, 12, 25, 22, 14, 7, 10, 20, 15, 18, 11, 6, 12, 16, 20, 13, 17,
 9, 15, 19, 24, 14, 11, 17, 18, 13, 7, 8, 16, 17, 13, 20, 6, 12, 21, 17, 27, 19, 14, 10, 17, 15, 20, 12, 23, 8, 17,
 19, 12, 15, 22, 23, 16, 7, 14, 18, 8, 16, 20, 12, 6, 17, 21, 17, 14, 10, 20, 16, 12, 21, 15, 8, 15, 12, 6, 17, 13,
 16, 10, 19, 7, 14, 7, 15, 18, 11, 6, 15, 11, 17, 13, 8, 19, 19, 12, 10, 18, 15, 12, 22, 17, 10, 14, 20, 12, 16, 8,
 18, 13, 16, 8, 15, 12, 16, 20, 13, 7, 9, 15, 19, 22, 14, 12, 18, 19, 14, 22, 32, 17, 18, 14, 26, 17, 14, 8, 19, 12,
 21, 16, 12, 10, 17, 24, 16, 20, 12, 27, 23, 16, 19, 14, 38, 21, 16, 19, 11, 13, 21, 25, 17, 11, 12, 18, 23, 28, 16, 26,
 22, 18, 27, 21, 15, 22, 19, 13, 24, 20, 24, 18, 27, 35, 22, 23
];

// ---------------- fitted model (red line) ----------------
const modelEpochPre = [2008.47,
 2008.5, 2008.6, 2008.7, 2008.8, 2008.9,
 2009.0, 2009.1, 2009.2, 2009.3, 2009.4, 2009.5, 2009.6, 2009.7, 2009.8, 2009.9,
 2010.0, 2010.1, 2010.2, 2010.3, 2010.4, 2010.5, 2010.6, 2010.7, 2010.8, 2010.9,
 2011.0, 2011.1, 2011.2, 2011.3, 2011.4, 2011.5, 2011.6, 2011.7, 2011.8, 2011.9,
 2012.0, 2012.1, 2012.2, 2012.3, 2012.4, 2012.5, 2012.6, 2012.7, 2012.8, 2012.9,
 2013.0];
const modelEpochPost = [2013.0, 2013.1, 2013.2, 2013.3, 2013.4, 2013.5, 2013.6, 2013.7, 2013.8, 2013.9,
 2014.0, 2014.1, 2014.2, 2014.3, 2014.4, 2014.5, 2014.6, 2014.62];

const nModelPre = [-1.5, -2.2, -3, -3.6, -4.2, -4.9,
 -5.5, -6, -6.5, -7, -7.4, -8, -9.2, -10.4, -11, -11.3,
 -12, -12.6, -13, -13.4, -13.8, -14.6, -15.8, -17, -17.5, -17.8,
 -18.4, -19, -19.2, -19.5, -20, -20.8, -22, -23, -23.4, -23.6,
 -24.2, -24.8, -25.2, -25.5, -25.8, -26.5, -28.5, -30, -30.4, -30.6,
 -30.8];
const nModelPost = [-55.5, -59, -61.5, -63.5, -65, -66.5, -68.5, -71, -72.8, -73.8,
 -74.5, -75.5, -76.5, -77.5, -78.5, -79.8, -81.8, -82.5];

const eModelPre = [1.5, 0.5, -1.8, -3.6, -4.8, -5.8,
 -7.4, -9.2, -11, -12.2, -13.3, -15.2, -18.2, -20.6, -21.7, -22.4,
 -23.5, -25.3, -27, -28.2, -29.2, -31.4, -34.4, -36.5, -37.4, -38.1,
 -39.5, -41.5, -43.3, -44.6, -46.3, -48.8, -51.3, -52.7, -53.5, -54.3,
 -55.8, -57.8, -59.3, -60.3, -61.3, -63.8, -66.8, -68.7, -69.5, -70.2,
 -71];
const eModelPost = [-82, -84.3, -86.4, -88.3, -90.2, -92.8, -95.8, -97.6, -98.6, -99.4,
 -100.8, -102.8, -105, -106.4, -107.6, -109.8, -113.6, -114.6];

const uModelPre = [8.5, 9.5, 12.2, 12.8, 11.3, 9.6,
 8.4, 7.3, 5.6, 4.5, 5.5, 8.3, 11.2, 12.2, 10.6, 8.8,
 7.6, 6.6, 5.0, 3.8, 4.4, 7.0, 10.3, 11.5, 9.6, 8.0,
 6.9, 5.8, 4.2, 3.0, 3.6, 6.0, 9.3, 10.8, 9.3, 7.6,
 6.5, 5.3, 3.8, 2.4, 3.5, 6.8, 9.6, 10.1, 8.4, 6.8,
 5.4];
const uModelPost = [9.4, 10.5, 10.3, 9.7, 11.0, 14.3, 18.2, 19.6, 17.9, 16.5,
 16.0, 15.0, 14.0, 12.9, 14.6, 17.8, 20.5, 21.1];

// ---------------- helpers ----------------
Chart.defaults.font.family = '"Liberation Sans", Arial, Helvetica, sans-serif';
Chart.defaults.font.size = 41;
Chart.defaults.color = '#000';

function sampled(values, start, step) {
  const out = [];
  values.forEach((v, i) => { if (v !== null) out.push({ x: +(start + i * step).toFixed(4), y: v }); });
  return out;
}
function paired(xs, ys) { return xs.map((x, i) => ({ x: x, y: ys[i] })); }

const boxPlugin = {
  id: 'matlabBox',
  afterDatasetsDraw(chart) {
    const { ctx, chartArea: a, scales } = chart;
    const L = 21;
    ctx.save();
    ctx.strokeStyle = '#000';
    ctx.lineWidth = 2;
    ctx.beginPath();
    scales.x.ticks.forEach(t => {
      const px = Math.round(scales.x.getPixelForValue(t.value));
      if (px <= a.left + 2 || px >= a.right - 2) return;
      ctx.moveTo(px, a.bottom); ctx.lineTo(px, a.bottom - L);
      ctx.moveTo(px, a.top); ctx.lineTo(px, a.top + L);
    });
    scales.y.ticks.forEach(t => {
      const py = Math.round(scales.y.getPixelForValue(t.value));
      if (py <= a.top + 2 || py >= a.bottom - 2) return;
      ctx.moveTo(a.left, py); ctx.lineTo(a.left + L, py);
      ctx.moveTo(a.right, py); ctx.lineTo(a.right - L, py);
    });
    ctx.stroke();
    ctx.lineWidth = 2.5;
    ctx.strokeRect(a.left, a.top, a.right - a.left, a.bottom - a.top);
    ctx.restore();
  }
};

function makePanel(id, obs, step, mPre, mPost, yMin, yMax, yStep, yLabels, yTitle, xTitle) {
  const modelStyle = { showLine: true, borderColor: 'rgb(255,0,0)', borderWidth: 8, pointRadius: 0,
                       fill: false, order: 0, borderJoinStyle: 'round' };
  const xAxisHeight = xTitle ? 118 : 70;
  const pts = sampled(obs, sampleStart, step);
  return new Chart(document.getElementById(id), {
    type: 'scatter',
    data: {
      datasets: [
        Object.assign({ data: paired(modelEpochPre, mPre), tension: 0.4, borderCapStyle: 'round' }, modelStyle),
        Object.assign({ data: [{ x: modelEpochPre[modelEpochPre.length - 1], y: mPre[mPre.length - 1] },
                               { x: modelEpochPost[0], y: mPost[0] }], tension: 0, borderCapStyle: 'square' }, modelStyle),
        Object.assign({ data: paired(modelEpochPost, mPost), tension: 0.4, borderCapStyle: 'round' }, modelStyle),
        // marker edges (drawn above all marker faces, as in the original plot)
        { data: pts, pointRadius: 11.5, pointBorderWidth: 4.5,
          pointBackgroundColor: 'rgba(0,0,0,0)', pointBorderColor: '#000', showLine: false, order: 1 },
        // marker faces
        { data: pts, pointRadius: 11.5, pointBorderWidth: 0,
          pointBackgroundColor: 'rgb(128,255,160)', pointBorderColor: 'rgba(0,0,0,0)', showLine: false, order: 2 }
      ]
    },
    options: {
      responsive: false, animation: false, devicePixelRatio: 1, events: [],
      layout: { padding: { left: 0, right: 45, top: 10, bottom: 0 } },
      plugins: { legend: { display: false }, tooltip: { enabled: false } },
      scales: {
        x: {
          type: 'linear', min: 2008, max: 2015,
          grid: { display: false, drawTicks: false }, border: { display: false },
          ticks: { stepSize: 1, padding: 15, maxRotation: 0, autoSkip: false,
                   callback: (v, i) => xTickLabels[i] },
          title: xTitle ? { display: true, text: xTitle, padding: { top: 0, bottom: 8 } } : { display: false },
          afterFit: s => { s.height = xAxisHeight; s.paddingLeft = 0; s.paddingRight = 0; }
        },
        y: {
          type: 'linear', min: yMin, max: yMax,
          grid: { display: false, drawTicks: false }, border: { display: false },
          ticks: { stepSize: yStep, padding: 13, autoSkip: false, callback: (v, i) => yLabels[i] },
          title: { display: true, text: yTitle, padding: { top: 0, bottom: 0 } },
          afterFit: s => { s.width = 170; s.paddingTop = 0; s.paddingBottom = 0; }
        }
      }
    },
    plugins: [boxPlugin]
  });
}

document.getElementById('title').textContent = titleText;
document.getElementById('parN').textContent = paramN;
document.getElementById('parE').textContent = paramE;
document.getElementById('parU').textContent = paramU;

makePanel('cN', nDisp, stepNE, nModelPre, nModelPost, -100, 50, 50, nTickLabels, yTitles[0], null);
makePanel('cE', eDisp, stepNE, eModelPre, eModelPost, -150, 50, 50, eTickLabels, yTitles[1], null);
makePanel('cU', uDisp, stepU, uModelPre, uModelPost, -20, 40, 20, uTickLabels, yTitles[2], xAxisTitle);
</script>
</body>
</html>
